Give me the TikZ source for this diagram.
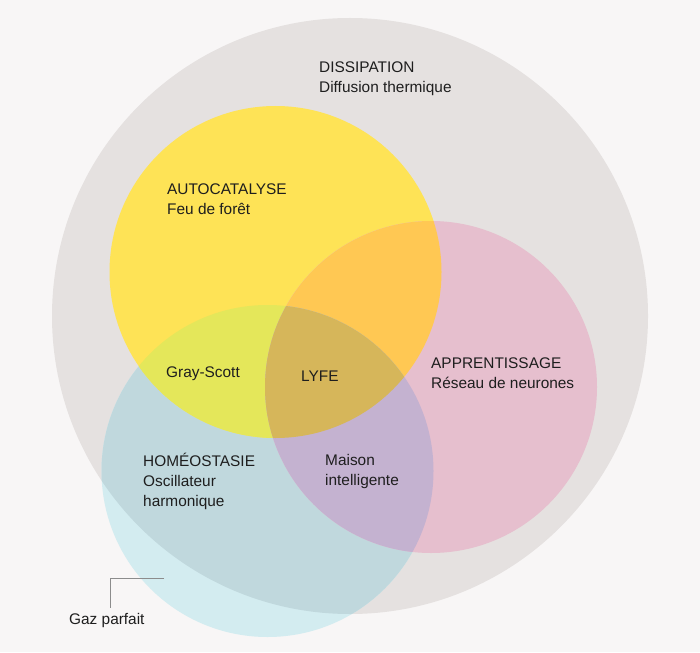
\documentclass[tikz,border=0pt]{standalone}
\usepackage{fontspec}
\setmainfont{Liberation Sans}
\definecolor{bgc}{HTML}{F8F6F6}
\definecolor{greyc}{HTML}{E5E1E0}
\definecolor{yelc}{HTML}{FEE356}
\definecolor{pinkc}{HTML}{E6BFCE}
\definecolor{bluec}{HTML}{D3ECF0}
\definecolor{bluegc}{HTML}{C0D8DD}
\definecolor{ypc}{HTML}{FFC853}
\definecolor{ybc}{HTML}{E4E75A}
\definecolor{pbc}{HTML}{C4B2D0}
\definecolor{ypbc}{HTML}{D6B65A}
\definecolor{txtc}{HTML}{1E1E1E}
\definecolor{leadc}{HTML}{8C8C8C}
\begin{document}
\begin{tikzpicture}[x=1pt,y=-1pt,
  lbl/.style={anchor=base west,inner sep=0pt,align=left,text=txtc,
    font=\fontsize{15.4}{20}\selectfont},
  leader/.style={draw=leadc,line width=1pt}]
\fill[bgc] (0,0) rectangle (700,652);
\useasboundingbox (0,0) rectangle (700,652);
\coordinate (G) at (350,316);
\coordinate (Y) at (275.5,272);
\coordinate (P) at (431,387);
\coordinate (B) at (267.5,471);
\def\rg{298}
\def\rc{166}
% grey
\fill[greyc] (G) circle (\rg);
% blue
\fill[bluec] (B) circle (\rc);
\begin{scope}
  \clip (B) circle (\rc);
  \fill[bluegc] (G) circle (\rg);
\end{scope}
% yellow, pink
\fill[yelc] (Y) circle (\rc);
\fill[pinkc] (P) circle (\rc);
\begin{scope}
  \clip (Y) circle (\rc);
  \fill[ypc] (P) circle (\rc);
  \fill[ybc] (B) circle (\rc);
\end{scope}
\begin{scope}
  \clip (P) circle (\rc);
  \fill[pbc] (B) circle (\rc);
  \clip (Y) circle (\rc);
  \fill[ypbc] (B) circle (\rc);
\end{scope}
% labels (anchor at baseline of the last line)
\node[lbl] (diss) at (319,92.5) {DISSIPATION\\Diffusion thermique};
\node[lbl] (auto) at (167,214.5) {AUTOCATALYSE\\Feu de forêt};
\node[lbl] (gray) at (166,377.5) {Gray-Scott};
\node[lbl] (lyfe) at (301,381.5) {LYFE};
\node[lbl] (app) at (431,388.5) {APPRENTISSAGE\\Réseau de neurones};
\node[lbl] (homeo) at (143,506.5) {HOMÉOSTASIE\\Oscillateur\\harmonique};
\node[lbl] (maison) at (325,485.5) {Maison\\intelligente};
\node[lbl] (gaz) at (69,624.5) {Gaz parfait};
% leader
\coordinate (lt) at (164,578.5);
\coordinate (lc) at (110,578.5);
\coordinate (lb) at (110,608);
\draw[leader] (lt) -- (lc) -- (lb);
\end{tikzpicture}
\end{document}
